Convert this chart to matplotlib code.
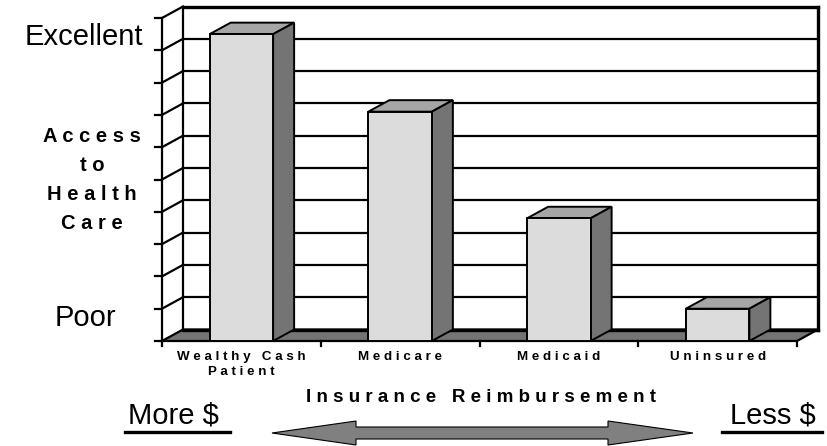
import matplotlib.pyplot as plt
from matplotlib.patches import Polygon
from matplotlib.lines import Line2D

# data
categories = ['Wealthy Cash\nPatient', 'Medicare', 'Medicaid', 'Uninsured']
access = [9.5, 7.1, 3.8, 1.0]
y_max = 10
axis_title = 'Access\nto\nHealth\nCare'
x_title = 'Insurance Reimbursement'

W, H = 827, 446
FONT = 'Liberation Sans'
FRONT = '#dcdcdc'
TOP = '#a6a6a6'
SIDE = '#747474'

def spaced(s):
    return '\n'.join(' '.join(line) for line in s.split('\n'))

def fxy(x, y):
    # pixel position -> figure fraction
    return x / W, 1 - y / H

fig = plt.figure(figsize=(W / 100, H / 100), dpi=100)
ax = fig.add_axes([0, 0, 1, 1])
ax.axis('off')

# pixel scale of the plot box
x0_px, x1_px = 162, 797
base_px, top_px = 341, 18
n = len(categories)
sx = (x1_px - x0_px) / n
sy = (base_px - top_px) / y_max
ax.set_xlim(-0.5 - x0_px / sx, -0.5 + (W - x0_px) / sx)
ax.set_ylim(-(H - base_px) / sy, base_px / sy)

dx = 21 / sx       # depth offset
dy = 11.5 / sy
left, right = -0.5, n - 0.5
lw = 1.6

# left side wall
ax.add_patch(Polygon([(left, 0), (left + dx, dy), (left + dx, y_max + dy), (left, y_max)],
                     closed=True, facecolor='white', edgecolor='none', zorder=1))
for v in range(1, y_max + 1):
    ax.plot([left, left + dx], [v, v + dy], color='black', lw=lw, zorder=2)
    ax.plot([left - 7 / sx, left], [v, v], color='black', lw=lw, zorder=2)
ax.plot([left - 7 / sx, left], [0, 0], color='black', lw=lw, zorder=2)
ax.plot([left, left], [0, y_max], color='black', lw=lw, zorder=2)

# back wall with gridlines
for v in range(1, y_max):
    ax.plot([left + dx, right + dx], [v + dy, v + dy], color='black', lw=lw, zorder=2)
ax.plot([left + dx, right + dx], [y_max + dy, y_max + dy], color='black', lw=2.4, zorder=2)
ax.plot([left + dx, left + dx], [dy, y_max + dy], color='black', lw=lw, zorder=2)
ax.plot([right + dx, right + dx], [dy, y_max + dy], color='black', lw=2.4, zorder=2)

# floor
ax.add_patch(Polygon([(left, 0), (right, 0), (right + dx, dy), (left + dx, dy)],
                     closed=True, facecolor=SIDE, edgecolor='black', lw=lw, zorder=3))
ax.plot([left + dx, right + dx], [dy, dy], color='black', lw=2.4, zorder=3)
for b in range(n + 1):
    ax.plot([b - 0.5, b - 0.5], [0, -5 / sy], color='black', lw=lw, zorder=3)

# bars
xs = list(range(n))
bw = 0.4
ax.bar(xs, access, width=bw, color=FRONT, edgecolor='black', linewidth=1.4, zorder=6)
for x, v in zip(xs, access):
    l, r = x - bw / 2, x + bw / 2
    ax.add_patch(Polygon([(l, v), (r, v), (r + dx, v + dy), (l + dx, v + dy)],
                         closed=True, facecolor=TOP, edgecolor='black', lw=1.4, zorder=5))
    ax.add_patch(Polygon([(r, 0), (r + dx, dy), (r + dx, v + dy), (r, v)],
                         closed=True, facecolor=SIDE, edgecolor='black', lw=1.4, zorder=5))

# category labels
for x, c in zip(xs, categories):
    ax.text(x, -0.3, spaced(c), ha='center', va='top', fontsize=9.6, fontweight='bold',
            family=FONT, linespacing=1.35)

# y labels
fig.text(*fxy(143, 37), 'Excellent', ha='right', va='center', fontsize=21, family=FONT)
fig.text(*fxy(85, 318), 'Poor', ha='center', va='center', fontsize=21, family=FONT)
fig.text(*fxy(92, 180), spaced(axis_title), ha='center', va='center', fontsize=14.5,
         fontweight='bold', family=FONT, linespacing=1.68)

# x title, arrow and ends
fig.text(*fxy(481, 397), spaced(x_title), ha='center', va='center', fontsize=13.5,
         fontweight='bold', family=FONT)
fig.text(*fxy(173, 416), 'More $', ha='center', va='center', fontsize=21, family=FONT)
fig.text(*fxy(773, 416), 'Less $', ha='center', va='center', fontsize=21, family=FONT)
for a, b in [(125, 230), (722, 822)]:
    fig.add_artist(Line2D([a / W, b / W], [1 - 432 / H] * 2, color='black', lw=2.4))

arrow_px = [(272, 433), (356, 421), (356, 427), (608, 427), (608, 421), (693, 433),
            (608, 445), (608, 439), (356, 439), (356, 445)]
fig.add_artist(Polygon([fxy(x, y) for x, y in arrow_px], closed=True, facecolor='#808080',
                       edgecolor='black', lw=0.8, transform=fig.transFigure))

fig.savefig('out.png', dpi=100, facecolor='white')
